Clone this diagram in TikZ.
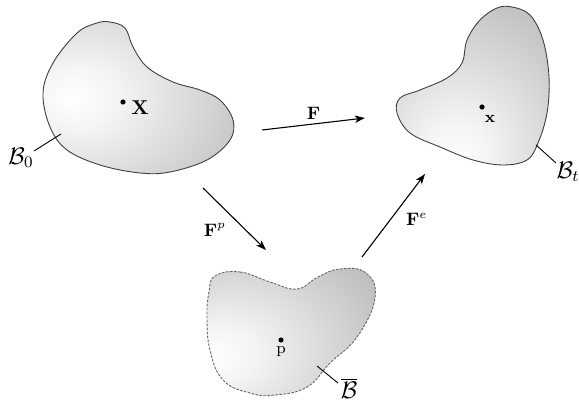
\documentclass[tikz,border=0pt]{standalone}
\usetikzlibrary{arrows.meta,positioning}

% one shading per body, light spot placed where the picture has it
\pgfdeclareradialshading{shadezero}{\pgfpoint{-18bp}{0bp}}{color(0bp)=(white); color(10bp)=(white!96!black); color(62bp)=(black!37); color(90bp)=(black!42)}
\pgfdeclareradialshading{shadecur}{\pgfpoint{-6bp}{-25bp}}{color(0bp)=(white); color(10bp)=(white!96!black); color(62bp)=(black!37); color(90bp)=(black!42)}
\pgfdeclareradialshading{shadeinter}{\pgfpoint{-24bp}{-10bp}}{color(0bp)=(white); color(10bp)=(white!96!black); color(62bp)=(black!37); color(90bp)=(black!42)}

\begin{document}
\begin{tikzpicture}[x=0.5pt,y=-0.5pt,
    body/.style={draw=black!75,line width=0.45pt},
    arrow/.style={-{Stealth[length=5pt,width=3.6pt,inset=1.3pt]},line width=0.55pt},
    lead/.style={line width=0.45pt},
    point/.style={circle,fill=black,inner sep=0pt,minimum size=2.6pt},
    lbl/.style={font=\large,inner sep=0pt},
    map/.style={font=\small,inner sep=2pt},
]
\useasboundingbox (0,0) rectangle (579,406);

% reference configuration
\shadedraw[body,shading=shadezero] plot[smooth cycle,tension=0.6] coordinates {
    (110,22) (125,28) (133,47) (147,67) (173,82) (200,90) (220,100) (233,120)
    (230,140) (207,160) (170,172) (140,173) (100,165) (67,150) (50,127)
    (43,93) (53,63) (77,33) (97,23)};
% current configuration
\shadedraw[body,shading=shadecur] plot[smooth cycle,tension=0.6] coordinates {
    (512,7) (530,15) (543,40) (549,77) (547,113) (538,143) (527,160) (503,165)
    (473,160) (440,147) (410,133) (397,113) (400,98) (420,90) (447,78)
    (462,63) (467,40) (480,20) (497,8)};
% intermediate configuration
\shadedraw[body,draw=black!60,dash pattern=on 1.3pt off 0.7pt,shading=shadeinter] plot[smooth cycle,tension=0.75] coordinates {
    (215,276) (240,272) (270,282) (297,289) (318,277) (340,269) (366,273)
    (375,298) (357,337) (330,363) (307,387) (275,395) (250,393) (223,380)
    (210,350) (207,317) (209,292)};

% material points
\node[point] (ptX) at (123,102) {};
\node[font=\normalsize,inner sep=0pt] (labX) at (140,108) {$\mathbf{X}$};
\node[point] (ptx) at (482,107) {};
\node[font=\footnotesize,inner sep=0pt] (labx) at (490,119) {$\mathbf{x}$};
\node[point] (ptp) at (281,340) {};
\node[font=\footnotesize,inner sep=0pt,below=1.5pt of ptp] (labp) {$\mathrm{p}$};

% body labels
\node[lbl] (bzero) at (21,158) {$\mathcal{B}_0$};
\node[lbl] (bcur) at (568,172) {$\mathcal{B}_t$};
\node[lbl] (bbar) at (349,388) {$\overline{\mathcal{B}}$};
\coordinate (bzeroa) at (34,151);
\coordinate (bzerob) at (61,134);
\coordinate (bcura) at (536,145);
\coordinate (bcurb) at (556,163);
\coordinate (bbara) at (317,366);
\coordinate (bbarb) at (338,383);
\draw[lead] (bzeroa) -- (bzerob);
\draw[lead] (bcura) -- (bcurb);
\draw[lead] (bbara) -- (bbarb);

% maps
\coordinate (fa) at (262,130);
\coordinate (fb) at (365,118);
\coordinate (fpa) at (203,188);
\coordinate (fpb) at (266,250);
\coordinate (fea) at (362,257);
\coordinate (feb) at (425,174);
\draw[arrow] (fa) -- node[above,map] {$\mathbf{F}$} (fb);
\draw[arrow] (fpa) -- node[below left,map,xshift=-2pt] {$\mathbf{F}^p$} (fpb);
\draw[arrow] (fea) -- node[right,map,xshift=4pt,yshift=-2pt] {$\mathbf{F}^e$} (feb);
\end{tikzpicture}
\end{document}
